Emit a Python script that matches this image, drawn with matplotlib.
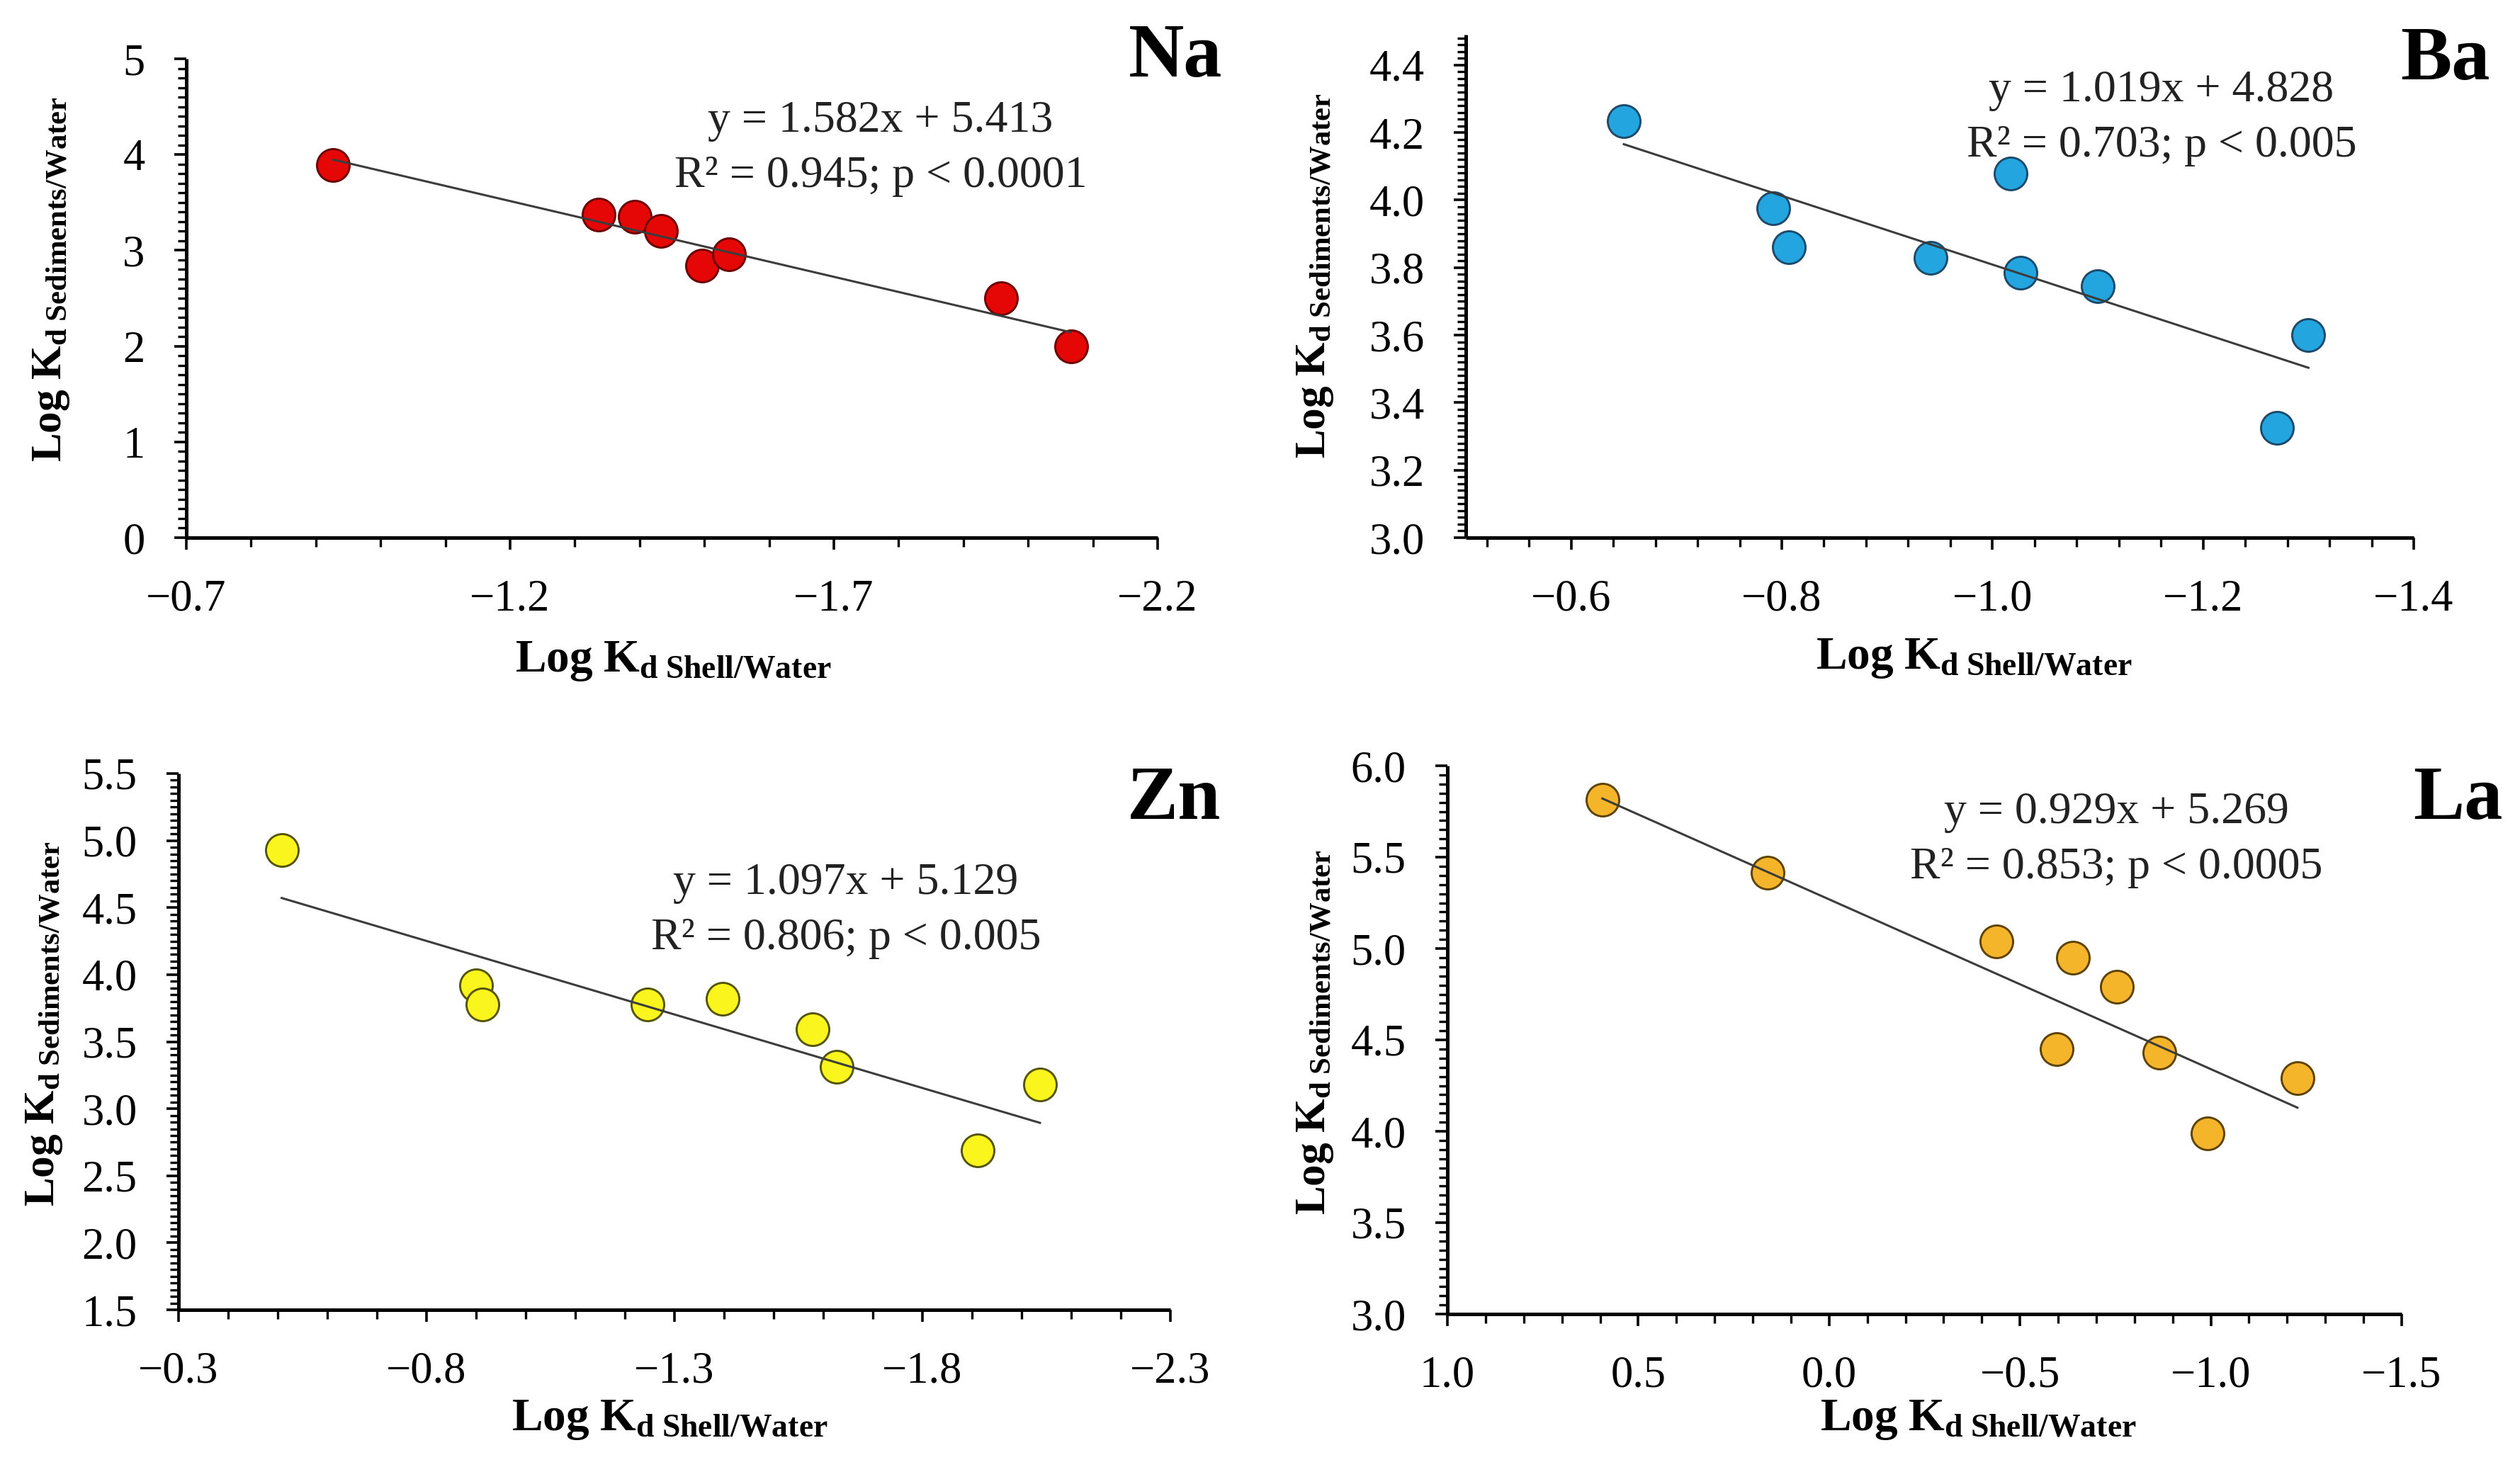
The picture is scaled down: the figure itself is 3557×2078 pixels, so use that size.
import numpy as np
import matplotlib
matplotlib.use('Agg')
import matplotlib.pyplot as plt
from matplotlib.ticker import FuncFormatter

# ---- data ----
na_x = [-0.927, -1.337, -1.393, -1.433, -1.496, -1.538, -1.958, -2.066]
na_y = [3.89, 3.37, 3.35, 3.20, 2.84, 2.96, 2.50, 2.00]
na_fit = (1.582, 5.413)
na_eq = ["y = 1.582x + 5.413", "R\u00b2 = 0.945; p < 0.0001"]

ba_x = [-0.650, -0.792, -0.807, -0.941, -1.017, -1.027, -1.100, -1.270, -1.300]
ba_y = [4.233, 3.975, 3.860, 3.828, 4.078, 3.784, 3.744, 3.326, 3.600]
ba_fit = (1.019, 4.828)
ba_eq = ["y = 1.019x + 4.828", "R\u00b2 = 0.703; p < 0.005"]

zn_x = [-0.508, -0.900, -0.913, -1.246, -1.397, -1.578, -1.627, -1.911, -2.037]
zn_y = [4.93, 3.92, 3.78, 3.78, 3.82, 3.59, 3.31, 2.69, 3.18]
zn_fit = (1.097, 5.129)
zn_eq = ["y = 1.097x + 5.129", "R\u00b2 = 0.806; p < 0.005"]

la_x = [0.594, 0.162, -0.438, -0.638, -0.754, -0.596, -0.865, -0.992, -1.227]
la_y = [5.813, 5.415, 5.04, 4.95, 4.79, 4.45, 4.43, 3.99, 4.29]
la_fit = (0.929, 5.269)
la_eq = ["y = 0.929x + 5.269", "R\u00b2 = 0.853; p < 0.0005"]

na_xticks = [-0.7, -1.2, -1.7, -2.2]
na_yticks = [0, 1, 2, 3, 4, 5]
ba_xticks = [-0.6, -0.8, -1.0, -1.2, -1.4]
ba_yticks = [3.0, 3.2, 3.4, 3.6, 3.8, 4.0, 4.2, 4.4]
zn_xticks = [-0.3, -0.8, -1.3, -1.8, -2.3]
zn_yticks = [1.5, 2.0, 2.5, 3.0, 3.5, 4.0, 4.5, 5.0, 5.5]
la_xticks = [1.0, 0.5, 0.0, -0.5, -1.0, -1.5]
la_yticks = [3.0, 3.5, 4.0, 4.5, 5.0, 5.5, 6.0]

xlabel = r'$\mathbf{Log\ K_{d\ Shell/Water}}$'
ylabel = r'$\mathbf{Log\ K_{d\ Sediments/Water}}$'

plt.rcParams['font.family'] = 'Liberation Serif'
plt.rcParams['mathtext.fontset'] = 'custom'
plt.rcParams['mathtext.rm'] = 'Liberation Serif'
plt.rcParams['mathtext.bf'] = 'Liberation Serif:bold'
plt.rcParams['mathtext.it'] = 'Liberation Serif:italic'

W, H = 3557, 2078
fig = plt.figure(figsize=(W / 100, H / 100), dpi=100)


def fx(x):
    return x / W


def fy(y):
    return 1 - y / H


def minor_ticks(lo, hi, step):
    lo, hi = min(lo, hi), max(lo, hi)
    k0 = int(np.ceil(lo / step - 1e-6))
    k1 = int(np.floor(hi / step + 1e-6))
    return [round(k * step, 4) for k in range(k0, k1 + 1)]


def fmt(dec):
    def f(v, pos):
        s = ('%.' + str(dec) + 'f') % (round(v, 4) + 0.0)
        return s.replace('-', '\u2212')
    return FuncFormatter(f)


def panel(box, x, y, fit, eq, name, fill, edge, xlim, xticks, xminor, ylim,
          yticks, yminor, ydec, lay):
    l, r, t, b = box
    ax = fig.add_axes([fx(l), fy(b), fx(r - l), (b - t) / H])
    ax.set_xlim(*xlim)
    ax.set_ylim(*ylim)
    ax.set_xticks(xticks)
    ax.set_yticks(yticks)
    ax.set_xticks(minor_ticks(xlim[0], xlim[1], xminor), minor=True)
    ax.set_yticks(minor_ticks(ylim[0], ylim[1], yminor), minor=True)
    ax.xaxis.set_major_formatter(fmt(1))
    ax.yaxis.set_major_formatter(fmt(ydec))
    for s in ['top', 'right']:
        ax.spines[s].set_visible(False)
    for s in ['left', 'bottom']:
        ax.spines[s].set_linewidth(3.6)
        ax.spines[s].set_capstyle('butt')
    ax.tick_params(which='major', direction='out', length=12, width=2.6,
                   labelsize=45, pad=30)
    ax.tick_params(which='minor', direction='out', length=9, width=2.4)

    xs = np.array([min(x), max(x)])
    ax.plot(xs, fit[0] * xs + fit[1], color='#3c3c3c', lw=2.2, zorder=4)
    ax.scatter(x, y, s=1100, c=fill, edgecolors=edge, linewidths=2.1,
               zorder=3, clip_on=False)

    fig.text(fx(lay['title'][0]), fy(lay['title'][1]), name, fontsize=78,
             fontweight='bold', ha='center', va='baseline')
    fig.text(fx(lay['eq'][0]), fy(lay['eq'][1]), eq[0], fontsize=46,
             ha='center', va='baseline', color='#222222')
    fig.text(fx(lay['eq'][0]), fy(lay['eq'][1] + 78), eq[1], fontsize=46,
             ha='center', va='baseline', color='#222222')
    fig.text(fx(lay['xl'][0]), fy(lay['xl'][1]), xlabel, fontsize=47,
             ha='center', va='baseline')
    fig.text(fx(lay['yl'][0]), fy(lay['yl'][1]), ylabel, fontsize=44,
             ha='center', va='baseline', rotation=90, rotation_mode='anchor')
    return ax


panel((263, 1634, 83, 759), na_x, na_y, na_fit, na_eq, 'Na',
      '#e50606', '#6a0000', (-0.7, -2.2), na_xticks, 0.1, (0, 5),
      na_yticks, 0.1, 0,
      {'title': (1659, 108), 'eq': (1243, 186), 'xl': (950, 948),
       'yl': (86, 394)})

panel((2069, 3407, 49, 759), ba_x, ba_y, ba_fit, ba_eq, 'Ba',
      '#23a6e0', '#1d4a6a', (-0.5, -1.4), ba_xticks, 0.04, (3.0, 4.49),
      ba_yticks, 0.02, 1,
      {'title': (3452, 112), 'eq': (3051, 143), 'xl': (2786, 944),
       'yl': (1870, 389)})

panel((252, 1652, 1092, 1849), zn_x, zn_y, zn_fit, zn_eq, 'Zn',
      '#fbf51e', '#55550a', (-0.3, -2.3), zn_xticks, 0.1, (1.5, 5.5),
      zn_yticks, 0.05, 1,
      {'title': (1657, 1156), 'eq': (1194, 1262), 'xl': (945, 2019),
       'yl': (76, 1445)})

panel((2043, 3390, 1081, 1855), la_x, la_y, la_fit, la_eq, 'La',
      '#f5b52a', '#5e4200', (1.0, -1.5), la_xticks, 0.1, (3.0, 6.0),
      la_yticks, 0.05, 1,
      {'title': (3469, 1156), 'eq': (2987, 1162), 'xl': (2792, 2019),
       'yl': (1870, 1457)})

fig.savefig('out.png', dpi=100, facecolor='white')
